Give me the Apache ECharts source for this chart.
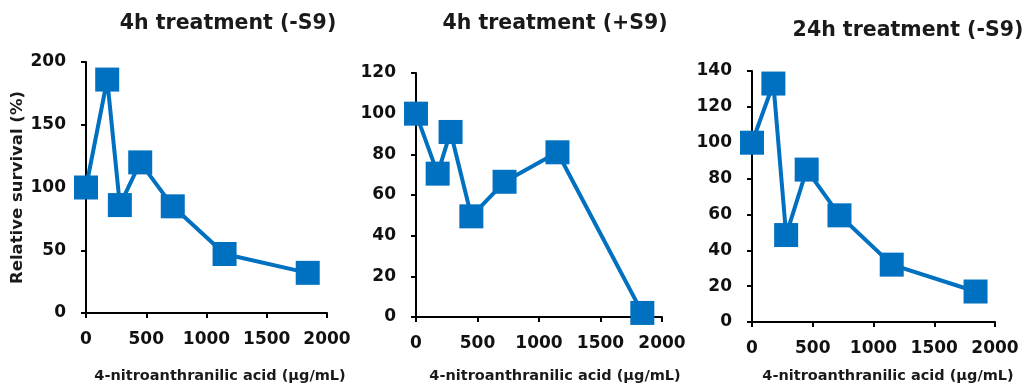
<!DOCTYPE html>
<html><head><meta charset="utf-8">
<script src="https://cdn.jsdelivr.net/npm/echarts@6/dist/echarts.min.js"></script>
<style>html,body{margin:0;padding:0;background:#fff}#c{width:1025px;height:388px}</style>
</head><body><div id="c"></div>
<script>
const doses = [0, 176, 281, 450, 720, 1150, 1840];
const survival4hMinus = [100, 186, 86, 120, 85, 47, 32];
const survival4hPlus = [100, 70.5, 91, 49.5, 66.5, 81, 2];
const survival24hMinus = [100, 133, 48.5, 85, 59.5, 32, 17];
const titles = ['4h treatment (-S9)', '4h treatment (+S9)', '24h treatment (-S9)'];
const xName = '4-nitroanthranilic acid (μg/mL)';
const yName = 'Relative survival (%)';
const yMax = [200, 120, 140];
const yStep = [50, 20, 20];

const FONT = '"DejaVu Sans", Verdana, sans-serif';
const grids = [
  {left: 86, top: 62, width: 241, height: 251},
  {left: 416, top: 73, width: 246, height: 244},
  {left: 752, top: 71, width: 243, height: 251}
];
const titlePos = [[223, 8], [550, 8], [903, 15]];
const xNamePos = [[215, 364], [550, 364], [883, 364]];
const seriesData = [survival4hMinus, survival4hPlus, survival24hMinus];

const option = {
  animation: false,
  backgroundColor: '#fff',
  title: titles.map((t, i) => ({
    text: t, left: titlePos[i][0], top: titlePos[i][1], textAlign: 'center',
    textStyle: {fontFamily: FONT, fontSize: 20.5, fontWeight: 'bold', color: '#1a1a1a'}
  })).concat(xNamePos.map(p => ({
    text: xName, left: p[0], top: p[1], textAlign: 'center',
    textStyle: {fontFamily: FONT, fontSize: 14.5, fontWeight: 'bold', color: '#1a1a1a'}
  }))),
  grid: grids,
  xAxis: grids.map((g, i) => ({
    type: 'value', gridIndex: i, min: 0, max: 2000, interval: 500,
    axisLine: {show: true, onZero: false, lineStyle: {color: '#000', width: 2}},
    axisTick: {show: true, length: 5, lineStyle: {color: '#000', width: 2}},
    axisLabel: {fontFamily: FONT, fontSize: 17, fontWeight: 'bold', color: '#111', margin: 18,
      formatter: v => String(v)},
    splitLine: {show: false}
  })),
  yAxis: grids.map((g, i) => ({
    type: 'value', gridIndex: i, min: 0, max: yMax[i], interval: yStep[i],
    name: i === 0 ? yName : '', nameLocation: 'middle', nameGap: 60, nameRotate: 90,
    nameTextStyle: {fontFamily: FONT, fontSize: 16.5, fontWeight: 'bold', color: '#1a1a1a'},
    axisLine: {show: true, lineStyle: {color: '#000', width: 2}},
    axisTick: {show: true, length: 5, lineStyle: {color: '#000', width: 2}},
    axisLabel: {fontFamily: FONT, fontSize: 17, fontWeight: 'bold', color: '#111', margin: 20,
      formatter: v => String(v)},
    splitLine: {show: false}
  })),
  series: seriesData.map((vals, i) => ({
    type: 'line', xAxisIndex: i, yAxisIndex: i,
    data: doses.map((d, k) => [d, vals[k]]),
    symbol: 'rect', symbolSize: 24,
    lineStyle: {color: '#0070C0', width: 4},
    itemStyle: {color: '#0070C0', borderWidth: 0},
    clip: false
  }))
};
echarts.init(document.getElementById('c')).setOption(option);
</script></body></html>
